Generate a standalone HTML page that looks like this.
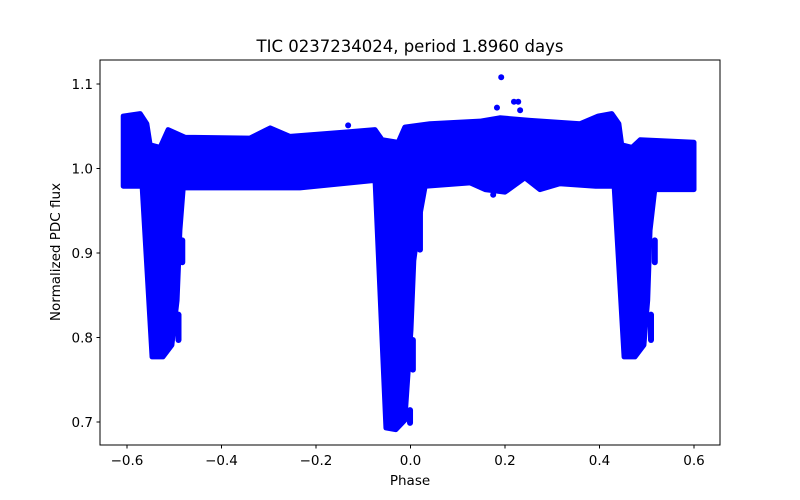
<!DOCTYPE html>
<html><head><meta charset="utf-8"><style>
body{margin:0;background:#fff}
svg{display:block;font-family:"DejaVu Sans","Liberation Sans",sans-serif}
</style></head><body>
<svg id="chart" width="800" height="500" viewBox="0 0 800 500" xmlns="http://www.w3.org/2000/svg">
<rect x="0" y="0" width="800" height="500" fill="#fff"/>
<g id="marks"></g>
<rect x="100" y="60" width="620" height="385" fill="none" stroke="#000" stroke-width="1"/>
<g id="axes"></g>
<text x="410" y="52" text-anchor="middle" font-size="16.5">TIC 0237234024, period 1.8960 days</text>
<text x="410" y="485" text-anchor="middle" font-size="13.5">Phase</text>
<text x="60" y="252" text-anchor="middle" font-size="13.5" transform="rotate(-90 60 252)">Normalized PDC flux</text>
</svg>
<script>
// data: outline of the dense point cloud
const outlinePhase=[-0.608,-0.572,-0.558,-0.551,-0.530,-0.513,-0.477,-0.340,-0.297,-0.255,-0.139,-0.075,-0.060,-0.026,-0.012,0.041,0.147,0.189,0.253,0.359,0.397,0.426,0.441,0.447,0.469,0.486,0.600,0.600,0.517,0.507,0.502,0.494,0.475,0.452,0.431,0.392,0.316,0.274,0.242,0.200,0.158,0.126,0.031,0.020,0.007,0.001,-0.012,-0.031,-0.052,-0.075,-0.234,-0.481,-0.488,-0.494,-0.505,-0.524,-0.547,-0.568,-0.608];
const outlineFlux=[1.062,1.065,1.053,1.028,1.025,1.046,1.037,1.036,1.048,1.038,1.043,1.046,1.034,1.031,1.049,1.053,1.056,1.060,1.057,1.053,1.062,1.065,1.053,1.028,1.025,1.034,1.031,0.975,0.975,0.927,0.844,0.791,0.777,0.777,0.979,0.979,0.982,0.975,0.989,0.972,0.975,0.983,0.979,0.945,0.891,0.809,0.702,0.691,0.693,0.986,0.977,0.977,0.927,0.844,0.791,0.777,0.777,0.979,0.979];
// detached streaks of points
const streakPhase=[-0.483,-0.491,0.517,0.509,0.020,0.005,-0.001];
const streakFluxTop=[0.915,0.827,0.915,0.827,0.947,0.797,0.714];
const streakFluxBottom=[0.889,0.797,0.889,0.797,0.904,0.762,0.699];
// isolated outlier points
const outlierPhase=[0.192,0.219,0.228,0.183,0.232,-0.132,0.175];
const outlierFlux=[1.108,1.079,1.079,1.072,1.069,1.051,0.969];
const xTicks=[-0.6,-0.4,-0.2,0.0,0.2,0.4,0.6];
const xTickLabels=["\u22120.6","\u22120.4","\u22120.2","0.0","0.2","0.4","0.6"];
const yTicks=[0.7,0.8,0.9,1.0,1.1];
const yTickLabels=["0.7","0.8","0.9","1.0","1.1"];

const NS="http://www.w3.org/2000/svg";
const xs=p=>410.5+p*472.5;
const ys=f=>168.5-(f-1)*845;
const marks=document.getElementById('marks');
const axes=document.getElementById('axes');
function mk(tag,attrs,parent){const e=document.createElementNS(NS,tag);for(const k in attrs)e.setAttribute(k,attrs[k]);parent.appendChild(e);return e;}

const poly=mk('polygon',{points:outlinePhase.map((p,i)=>xs(p)+','+ys(outlineFlux[i])).join(' '),fill:'#0000ff',stroke:'#0000ff','stroke-width':5,'stroke-linejoin':'round'},marks);


streakPhase.forEach((p,i)=>{
  const l=mk('line',{x1:xs(p),x2:xs(p),y1:ys(streakFluxTop[i]),y2:ys(streakFluxBottom[i]),stroke:'#0000ff','stroke-width':6,'stroke-linecap':'round'},marks);
  
  
});
outlierPhase.forEach((p,i)=>{
  const c=mk('circle',{cx:xs(p),cy:ys(outlierFlux[i]),r:3,fill:'#0000ff'},marks);
  
  
});
xTicks.forEach((t,i)=>{
  const l=mk('line',{x1:xs(t),x2:xs(t),y1:445,y2:448.5,stroke:'#000'},axes);
  
  
  const tx=mk('text',{x:xs(t),y:465,'text-anchor':'middle','font-size':13.5},axes);
  tx.textContent=xTickLabels[i];
  
  
});
yTicks.forEach((t,i)=>{
  const l=mk('line',{x1:96.5,x2:100,y1:ys(t),y2:ys(t),stroke:'#000'},axes);
  
  
  const tx=mk('text',{x:93,y:ys(t)+5,'text-anchor':'end','font-size':13.5},axes);
  tx.textContent=yTickLabels[i];
  
  
});
</script>
</body></html>
